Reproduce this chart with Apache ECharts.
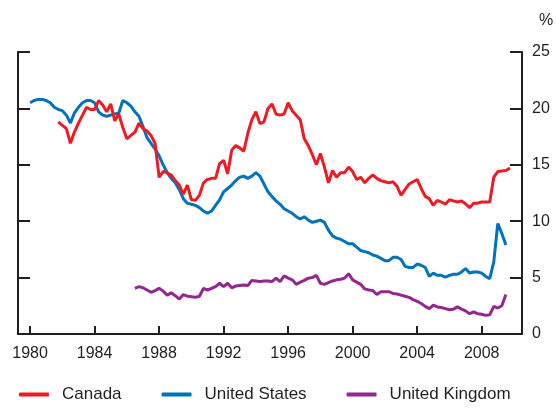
<!DOCTYPE html>
<html>
<head>
<meta charset="utf-8">
<script src="https://cdn.jsdelivr.net/npm/echarts@6/dist/echarts.min.js"></script>
<style>
  html, body { margin: 0; padding: 0; background: #fff; }
  #chart { width: 556px; height: 409px; }
</style>
</head>
<body>
<div id="chart"></div>
<script>
// quarterly series (percent)
const axisStart = 1979.25
const axisEnd = 2010.5
const yearLabels = ['1980', '1984', '1988', '1992', '1996', '2000', '2004', '2008']

const canadaStart = 1981.75
const canada = [
  18.8, 18.5, 18.2, 16.9, 17.9, 18.7, 19.4, 20.1, 19.9, 19.9, 20.7, 20.3, 19.7, 20.4, 18.9, 19.5,
  18.3, 17.3, 17.6, 17.9, 18.7, 18.2, 18.0, 17.6, 16.9, 13.9, 14.4, 14.3, 14.1, 13.6, 13.2, 12.4,
  13.2, 11.9, 11.85, 12.3, 13.4, 13.7, 13.8, 13.8, 15.1, 15.4, 14.2, 16.3, 16.7, 16.5, 16.2, 17.8,
  19.0, 19.7, 18.65, 18.8, 20.0, 20.4, 19.5, 19.4, 19.5, 20.5, 19.8, 19.4, 19.0, 17.3, 16.7, 15.9,
  15.0, 16.0, 14.8, 13.4, 14.5, 13.9, 14.3, 14.3, 14.8, 14.4, 13.7, 13.9, 13.4, 13.8, 14.1, 13.8,
  13.6, 13.5, 13.4, 13.5, 13.1, 12.3, 12.8, 13.3, 13.5, 13.7, 12.9, 12.2, 12.0, 11.4, 11.85, 11.7,
  11.5, 11.9, 11.8, 11.7, 11.8, 11.55, 11.2, 11.6, 11.6, 11.7, 11.7, 11.7, 13.9, 14.4, 14.45, 14.5,
  14.7
]

const usStart = 1980.0
const unitedStates = [
  20.5, 20.7, 20.8, 20.8, 20.7, 20.5, 20.1, 19.9, 19.8, 19.4, 18.7, 19.6, 20.1, 20.5, 20.7, 20.7,
  20.5, 19.7, 19.4, 19.3, 19.4, 19.5, 19.6, 20.7, 20.5, 20.2, 19.7, 19.3, 18.4, 17.4, 16.9, 16.4,
  15.8, 15.0, 14.3, 13.8, 13.4, 12.8, 12.0, 11.6, 11.5, 11.4, 11.2, 10.9, 10.7, 10.9, 11.4, 11.9,
  12.6, 12.9, 13.2, 13.6, 13.9, 14.0, 13.8, 14.0, 14.3, 14.0, 13.3, 12.6, 12.2, 11.8, 11.5, 11.1,
  10.9, 10.7, 10.4, 10.2, 10.4, 10.1, 9.9, 10.0, 10.1, 9.9, 9.2, 8.7, 8.5, 8.4, 8.2, 8.0,
  8.0, 7.7, 7.4, 7.3, 7.2, 7.0, 6.9, 6.7, 6.5, 6.5, 6.8, 6.8, 6.6, 6.0, 5.9, 5.9,
  6.2, 6.1, 5.9, 5.1, 5.4, 5.2, 5.2, 5.05, 5.2, 5.3, 5.3, 5.5, 5.8, 5.4, 5.5, 5.5,
  5.4, 5.1, 4.9, 6.4, 9.8, 8.9, 7.9
]

const ukStart = 1986.5
const unitedKingdom = [
  4.05, 4.2, 4.1, 3.9, 3.7, 3.85, 4.05, 3.8, 3.45, 3.65, 3.4, 3.1, 3.5, 3.35, 3.3, 3.25,
  3.35, 4.05, 3.9, 4.05, 4.2, 4.5, 4.2, 4.5, 4.1, 4.25, 4.3, 4.35, 4.3, 4.75, 4.7, 4.65,
  4.7, 4.7, 4.65, 4.95, 4.65, 5.15, 4.95, 4.8, 4.4, 4.6, 4.75, 4.95, 5.0, 5.2, 4.5, 4.4,
  4.55, 4.7, 4.8, 4.85, 4.95, 5.35, 4.8, 4.6, 4.4, 4.0, 3.9, 3.85, 3.5, 3.75, 3.75, 3.75,
  3.6, 3.55, 3.45, 3.35, 3.25, 3.05, 2.9, 2.7, 2.45, 2.25, 2.55, 2.4, 2.35, 2.25, 2.15, 2.2,
  2.4, 2.2, 2.05, 1.8, 1.95, 1.8, 1.75, 1.65, 1.7, 2.45, 2.3, 2.5, 3.5
]

// quarterly category axis
const quarters = []
for (let y = axisStart; y <= axisEnd + 1e-9; y += 0.25) quarters.push(y.toFixed(2))

// put a series onto the quarter axis
function place(start, values) {
  const out = quarters.map(() => null)
  const first = Math.round((start - axisStart) * 4)
  values.forEach((v, i) => { out[first + i] = v })
  return out
}

function isLabelYear(q) {
  return q.endsWith('.00') && yearLabels.indexOf(String(parseFloat(q))) !== -1
}

const ink = '#231f20'
const font = 'Liberation Sans, Arial, sans-serif'

var chart = echarts.init(document.getElementById('chart'))
var option = {
  animation: false,
  title: {
    text: '%',
    left: 534,
    top: 8,
    textStyle: { fontFamily: font, fontSize: 16, fontWeight: 'normal', color: ink }
  },
  grid: { left: 18, right: 34, top: 52, bottom: 75 },
  legend: {
    bottom: 1,
    left: 14,
    itemWidth: 30,
    itemHeight: 4,
    itemGap: 40,
    icon: 'roundRect',
    textStyle: { fontFamily: font, fontSize: 17, color: ink, padding: [0, 0, 0, 8] },
    data: ['Canada', 'United States', 'United Kingdom']
  },
  xAxis: {
    type: 'category',
    data: quarters,
    boundaryGap: false,
    axisLine: { lineStyle: { color: ink, width: 2 } },
    axisTick: {
      inside: true,
      length: 8,
      lineStyle: { color: ink, width: 2 },
      interval: (i, q) => isLabelYear(q)
    },
    axisLabel: {
      interval: (i, q) => isLabelYear(q),
      formatter: q => String(parseFloat(q)),
      fontFamily: font,
      fontSize: 16,
      color: ink,
      margin: 12
    },
    splitLine: { show: false }
  },
  yAxis: [
    {
      type: 'value',
      position: 'left',
      min: 0, max: 25, interval: 5,
      axisLine: { show: true, lineStyle: { color: ink, width: 2 } },
      axisTick: { show: true, inside: true, length: 12, lineStyle: { color: ink, width: 2 } },
      axisLabel: { show: false },
      splitLine: { show: false }
    },
    {
      type: 'value',
      position: 'right',
      min: 0, max: 25, interval: 5,
      axisLine: { show: true, lineStyle: { color: ink, width: 2 } },
      axisTick: { show: true, inside: true, length: 12, lineStyle: { color: ink, width: 2 } },
      axisLabel: { fontFamily: font, fontSize: 16, color: ink, margin: 10 },
      splitLine: { show: false }
    }
  ],
  series: [
    {
      name: 'Canada', type: 'line', data: place(canadaStart, canada),
      color: '#ed1c24', lineStyle: { width: 3 }, showSymbol: false, z: 4
    },
    {
      name: 'United States', type: 'line', data: place(usStart, unitedStates),
      color: '#0072bc', lineStyle: { width: 3 }, showSymbol: false, z: 3
    },
    {
      name: 'United Kingdom', type: 'line', data: place(ukStart, unitedKingdom),
      color: '#92278f', lineStyle: { width: 3 }, showSymbol: false, z: 2
    }
  ]
}
chart.setOption(option)
</script>
</body>
</html>
